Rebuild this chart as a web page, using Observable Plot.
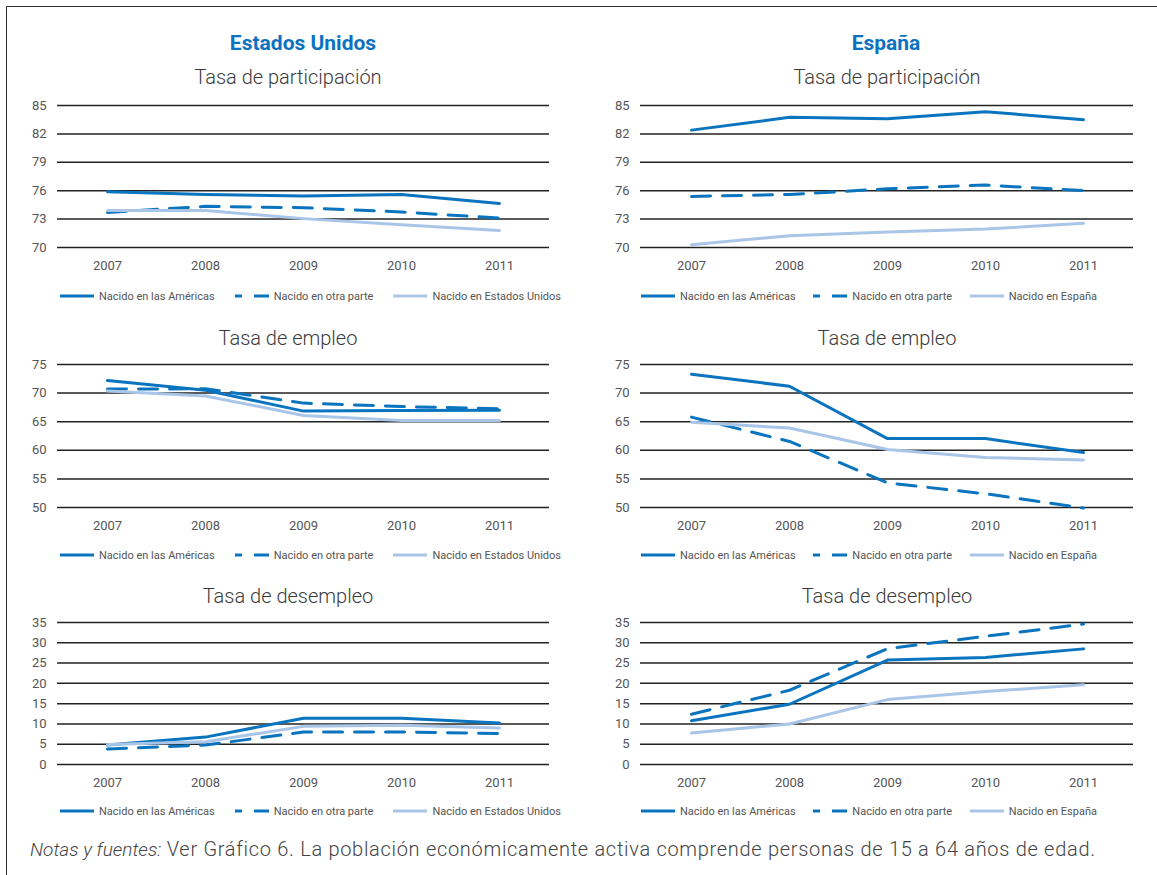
<!DOCTYPE html>
<html><head><meta charset="utf-8">
<script src="https://cdn.jsdelivr.net/npm/d3@7"></script>
<script src="https://cdn.jsdelivr.net/npm/@observablehq/plot@0.6"></script>
<style>
body{margin:0;background:#fff;font-family:Roboto,"Noto Sans",sans-serif;}
#page{position:relative;width:1157px;height:875px;overflow:hidden;background:#fff;}
#frame{position:absolute;left:6px;top:6px;width:1170px;height:900px;border:1px solid #333;box-sizing:border-box;}
.abs{position:absolute;}
.header{font-weight:700;color:#0b72c0;font-size:21px;transform:translateX(-50%);white-space:nowrap;line-height:24px}
.title{font-weight:300;color:#3a3a3a;font-size:20px;transform:translateX(-50%);white-space:nowrap;line-height:24px}
.legend{display:flex;justify-content:space-between;align-items:center;font-size:11px;color:#555;height:14px}
.item{display:flex;align-items:center;white-space:nowrap}
.sw{margin-right:5px;display:block}
.notes{font-size:20px;font-weight:300;color:#444;white-space:nowrap;line-height:24px;letter-spacing:0.7px}
.notes i{font-size:19px;letter-spacing:0}
</style></head><body><div id="page"><div id="frame"></div></div>
<script>
// ---------- data ----------
const years = [2007, 2008, 2009, 2010, 2011];

const seriesNames = ["Nacido en las Américas", "Nacido en otra parte"];
const nativeUS = "Nacido en Estados Unidos";
const nativeES = "Nacido en España";

const countryTitles = ["Estados Unidos", "España"];
const panelTitles = ["Tasa de participación", "Tasa de empleo", "Tasa de desempleo"];

const partTicks = [70, 73, 76, 79, 82, 85];
const empTicks = [50, 55, 60, 65, 70, 75];
const desTicks = [0, 5, 10, 15, 20, 25, 30, 35];

// Estados Unidos
const usPartAmericas = [75.9, 75.6, 75.45, 75.6, 74.65];
const usPartOtra     = [73.7, 74.35, 74.2, 73.75, 73.1];
const usPartNative   = [73.9, 73.9, 73.05, 72.4, 71.8];

const usEmpAmericas = [72.2, 70.5, 66.85, 66.95, 67.0];
const usEmpOtra     = [70.7, 70.75, 68.25, 67.65, 67.25];
const usEmpNative   = [70.35, 69.5, 66.1, 65.2, 65.2];

const usDesAmericas = [4.8, 6.75, 11.4, 11.4, 10.25];
const usDesOtra     = [3.8, 4.8, 8.0, 8.0, 7.65];
const usDesNative   = [4.95, 5.6, 9.4, 9.7, 9.0];

// España
const esPartAmericas = [82.4, 83.75, 83.6, 84.35, 83.5];
const esPartOtra     = [75.4, 75.6, 76.2, 76.6, 76.0];
const esPartNative   = [70.3, 71.25, 71.65, 71.95, 72.55];

const esEmpAmericas = [73.3, 71.2, 62.05, 62.05, 59.6];
const esEmpOtra     = [65.8, 61.55, 54.3, 52.4, 49.9];
const esEmpNative   = [64.9, 63.9, 60.15, 58.75, 58.3];

const esDesAmericas = [10.8, 14.85, 25.75, 26.4, 28.5];
const esDesOtra     = [12.4, 18.3, 28.55, 31.6, 34.6];
const esDesNative   = [7.75, 10.0, 16.0, 18.0, 19.65];

const notePrefix = "Notas y fuentes:";
const noteText = " Ver Gráfico 6. La población económicamente activa comprende personas de 15 a 64 años de edad.";

// ---------- styles ----------
const DARK = "#0a74bf";
const LIGHT = "#a9c5e7";
const DASH = "19 12";

const page = document.getElementById("page");

function el(tag, cls, css, text) {
  const e = document.createElement(tag);
  if (cls) e.className = cls;
  if (css) Object.assign(e.style, css);
  if (text != null) e.textContent = text;
  return e;
}

const cols = [
  {left: 0, width: 560, mL: 57, mR: 11, titleX: 288, headX: 303, legL: 60, legR: 561, native: nativeUS},
  {left: 580, width: 577, mL: 60, mR: 24, titleX: 887, headX: 886, legL: 641, legR: 1097, native: nativeES}
];
const rows = [
  {gridTop: 105, gridH: 142, titleY: 65, legY: 289, domain: [70, 85], ticks: partTicks},
  {gridTop: 364, gridH: 143, titleY: 326, legY: 548, domain: [50, 75], ticks: empTicks},
  {gridTop: 622, gridH: 142, titleY: 584, legY: 804, domain: [0, 35], ticks: desTicks}
];
const values = [
  [[usPartAmericas, usPartOtra, usPartNative], [usEmpAmericas, usEmpOtra, usEmpNative], [usDesAmericas, usDesOtra, usDesNative]],
  [[esPartAmericas, esPartOtra, esPartNative], [esEmpAmericas, esEmpOtra, esEmpNative], [esDesAmericas, esDesOtra, esDesNative]]
];

function swatch(color, dash) {
  const ns = "http://www.w3.org/2000/svg";
  const s = document.createElementNS(ns, "svg");
  s.setAttribute("width", 34); s.setAttribute("height", 4);
  s.setAttribute("class", "sw");
  const l = document.createElementNS(ns, "line");
  l.setAttribute("x1", 0); l.setAttribute("x2", 34); l.setAttribute("y1", 2); l.setAttribute("y2", 2);
  l.setAttribute("stroke", color); l.setAttribute("stroke-width", 3);
  if (dash) { l.setAttribute("stroke-dasharray", dash); l.setAttribute("stroke-dashoffset", 12); }
  s.appendChild(l);
  return s;
}

cols.forEach((c, ci) => {
  page.appendChild(el("div", "abs header", {left: c.headX + "px", top: "31px"}, countryTitles[ci]));
  const names = [seriesNames[0], seriesNames[1], c.native];
  const styles = [{color: DARK, dash: null}, {color: DARK, dash: DASH}, {color: LIGHT, dash: null}];
  rows.forEach((r, ri) => {
    page.appendChild(el("div", "abs title", {left: c.titleX + "px", top: r.titleY + "px"}, panelTitles[ri]));
    const series = values[ci][ri];
    const chart = Plot.plot({
      width: c.width,
      height: 10 + r.gridH + 30,
      marginLeft: c.mL, marginRight: c.mR, marginTop: 10, marginBottom: 30,
      style: {fontFamily: "Roboto, sans-serif", fontSize: "13px", color: "#555", background: "transparent", overflow: "visible"},
      x: {type: "point", domain: years, padding: 0.5, label: null, tickSize: 0, tickPadding: 13, tickFormat: d => String(d)},
      y: {domain: r.domain, ticks: r.ticks, label: null, tickSize: 0, tickPadding: 11},
      marks: [
        Plot.ruleY(r.ticks, {stroke: "#222", strokeWidth: 1.5}),
        ...series.map((vals, si) => Plot.line(years.map((yr, i) => ({year: yr, value: vals[i]})), {
          x: "year", y: "value", stroke: styles[si].color, strokeWidth: 3,
          strokeDasharray: styles[si].dash || undefined, strokeLinejoin: "round"
        }))
      ]
    });
    chart.style.position = "absolute";
    chart.style.left = c.left + "px";
    chart.style.top = (r.gridTop - 10) + "px";
    page.appendChild(chart);

    const leg = el("div", "abs legend", {left: c.legL + "px", width: (c.legR - c.legL) + "px", top: r.legY + "px"});
    names.forEach((n, k) => {
      const it = el("div", "item");
      it.appendChild(swatch(styles[k].color, styles[k].dash));
      it.appendChild(el("span", null, null, n));
      leg.appendChild(it);
    });
    page.appendChild(leg);
  });
});

const notes = el("div", "abs notes", {left: "30px", top: "837px"});
notes.appendChild(el("i", null, null, notePrefix));
notes.appendChild(document.createTextNode(noteText));
page.appendChild(notes);
</script></body></html>
